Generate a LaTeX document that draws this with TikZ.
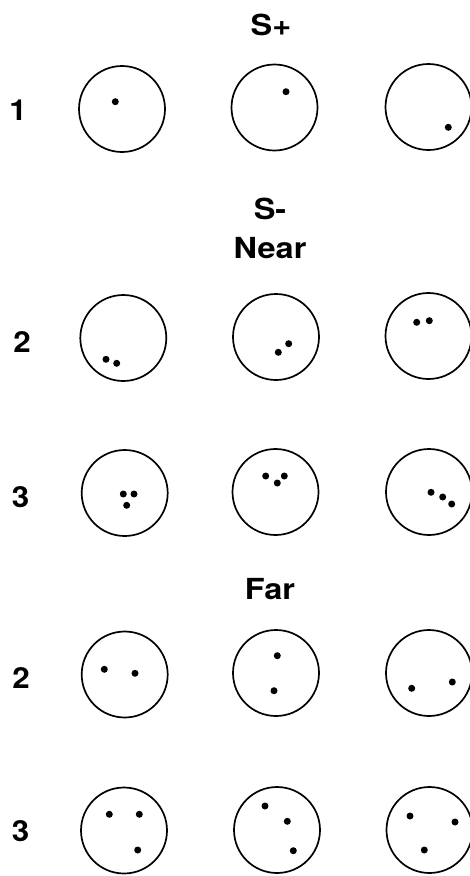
\documentclass[tikz,border=0pt]{standalone}
\usepackage{fontspec}
\setmainfont{TeX Gyre Heros}
\begin{document}
\begin{tikzpicture}[x=1pt,y=-1pt,
  ring/.style={draw,circle,line width=1.7pt,minimum size=86pt,inner sep=0pt},
  dot/.style={fill,circle,minimum size=7pt,inner sep=0pt},
  head/.style={font=\fontsize{29}{31}\selectfont\bfseries,anchor=base,inner sep=0pt,xscale=1.12},
  num/.style={font=\fontsize{29}{31}\selectfont\bfseries,anchor=base,inner sep=0pt,xscale=1.08}]
\useasboundingbox[fill=white] (0,0) rectangle (470,876);
% headings
\node[head] (hsp) at (271,35) {S+};
\node[head] (hsm) at (270,219.3) {S-};
\node[head] (hnear) at (270,258.3) {Near};
\node[head] (hfar) at (270,599.3) {Far};
% row numbers
\node[num] (n1) at (18,120) {1};
\node[num] (n2) at (22,352.7) {2};
\node[num] (n3) at (20.5,507) {3};
\node[num] (n4) at (21,688) {2};
\node[num] (n5) at (20.5,841.7) {3};
% row 1
\node[ring] (a1) at (122,109) {};
\node[ring] (a2) at (274.5,107.5) {};
\node[ring] (a3) at (428.5,107) {};
\node[dot] (a1d1) at (115.3,101.7) {};
\node[dot] (a2d1) at (286,91.7) {};
\node[dot] (a3d1) at (448.3,127.3) {};
% row 2
\node[ring] (b1) at (123.3,338) {};
\node[ring] (b2) at (276,337) {};
\node[ring] (b3) at (428.5,336) {};
\node[dot] (b1d1) at (106,359.3) {};
\node[dot] (b1d2) at (116.7,363.3) {};
\node[dot] (b2d1) at (278.3,352.3) {};
\node[dot] (b2d2) at (288.7,343.7) {};
\node[dot] (b3d1) at (416.7,322.3) {};
\node[dot] (b3d2) at (429.3,320.7) {};
% row 3
\node[ring] (c1) at (124.7,493) {};
\node[ring] (c2) at (275.5,492) {};
\node[ring] (c3) at (429,492) {};
\node[dot] (c1d1) at (123.3,494) {};
\node[dot] (c1d2) at (134,494) {};
\node[dot] (c1d3) at (126.7,505.3) {};
\node[dot] (c2d1) at (265.7,476) {};
\node[dot] (c2d2) at (284.3,476) {};
\node[dot] (c2d3) at (277.3,483) {};
\node[dot] (c3d1) at (431,492.3) {};
\node[dot] (c3d2) at (442.7,497) {};
\node[dot] (c3d3) at (451.7,504) {};
% row 4
\node[ring] (e1) at (124.7,674.5) {};
\node[ring] (e2) at (276,673) {};
\node[ring] (e3) at (429,673) {};
\node[dot] (e1d1) at (104.3,669.3) {};
\node[dot] (e1d2) at (135,673.3) {};
\node[dot] (e2d1) at (277.3,655.7) {};
\node[dot] (e2d2) at (274,690.7) {};
\node[dot] (e3d1) at (411.7,688.3) {};
\node[dot] (e3d2) at (452.3,682) {};
% row 5
\node[ring] (f1) at (124,830.5) {};
\node[ring] (f2) at (277,830) {};
\node[ring] (f3) at (429.5,830) {};
\node[dot] (f1d1) at (109.3,814.3) {};
\node[dot] (f1d2) at (139.3,814.3) {};
\node[dot] (f1d3) at (137.7,850) {};
\node[dot] (f2d1) at (265,806) {};
\node[dot] (f2d2) at (287.3,821.3) {};
\node[dot] (f2d3) at (293.3,850.7) {};
\node[dot] (f3d1) at (410,816) {};
\node[dot] (f3d2) at (455,822) {};
\node[dot] (f3d3) at (424.3,850) {};
\end{tikzpicture}
\end{document}
